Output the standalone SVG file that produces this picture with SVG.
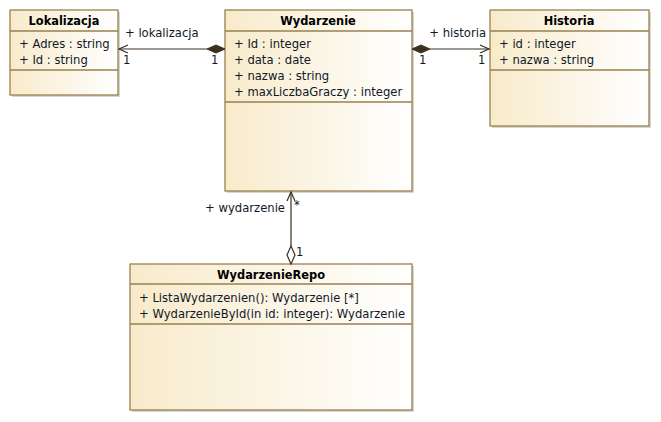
<svg xmlns="http://www.w3.org/2000/svg" width="661" height="422" viewBox="0 0 661 422">
<style>
.box{fill:url(#g);stroke:#98804f;stroke-width:1.3}
.sh{fill:#d9d6cf}
.sep{stroke:#98804f;stroke-width:1.3}
text{font-family:"DejaVu Sans",Verdana,sans-serif;font-size:11.6px;fill:#101828}
.t{font-weight:bold;text-anchor:middle;fill:#000;font-size:11.4px}
.ln{stroke:#3c3020;stroke-width:1.2;fill:none}
</style>
<defs>
<linearGradient id="g" x1="0" y1="0" x2="1" y2="0">
<stop offset="0" stop-color="#f8ebcb"/>
<stop offset="1" stop-color="#ffffff"/>
</linearGradient>
</defs>
<g id="Lokalizacja">
<rect class="sh" x="12" y="12" width="108" height="85"/>
<rect class="box" x="10" y="10" width="108" height="85"/>
<line class="sep" x1="10" y1="31" x2="118" y2="31"/>
<line class="sep" x1="10" y1="70" x2="118" y2="70"/>
<text class="t" x="64" y="25">Lokalizacja</text>
<text x="19" y="48">+ Adres : string</text>
<text x="19" y="64">+ Id : string</text>
</g>
<g id="Wydarzenie">
<rect class="sh" x="227" y="12" width="187" height="181"/>
<rect class="box" x="225" y="10" width="187" height="181"/>
<line class="sep" x1="225" y1="31" x2="412" y2="31"/>
<line class="sep" x1="225" y1="102" x2="412" y2="102"/>
<text class="t" x="318" y="25">Wydarzenie</text>
<text x="234" y="48">+ Id : integer</text>
<text x="234" y="64">+ data : date</text>
<text x="234" y="80">+ nazwa : string</text>
<text x="234" y="96">+ maxLiczbaGraczy : integer</text>
</g>
<g id="Historia">
<rect class="sh" x="492" y="12" width="159" height="116"/>
<rect class="box" x="490" y="10" width="159" height="116"/>
<line class="sep" x1="490" y1="31" x2="649" y2="31"/>
<line class="sep" x1="490" y1="70" x2="649" y2="70"/>
<text class="t" x="569" y="25">Historia</text>
<text x="499" y="48">+ id : integer</text>
<text x="499" y="64">+ nazwa : string</text>
</g>
<g id="WydarzenieRepo">
<rect class="sh" x="132" y="266" width="282" height="146"/>
<rect class="box" x="130" y="264" width="282" height="146"/>
<line class="sep" x1="130" y1="284" x2="412" y2="284"/>
<line class="sep" x1="130" y1="324" x2="412" y2="324"/>
<text class="t" x="271" y="279">WydarzenieRepo</text>
<text x="139" y="302">+ ListaWydarzenien(): Wydarzenie [*]</text>
<text x="139" y="318">+ WydarzenieById(in id: integer): Wydarzenie</text>
</g>
<g id="connectors">
<line class="ln" x1="119" y1="49" x2="207" y2="49"/>
<polyline class="ln" points="128,45 119,49 128,53"/>
<polygon points="207,49 216,45 225,49 216,53" fill="#3c3020" stroke="#3c3020"/>
<text x="125" y="37">+ lokalizacja</text>
<text x="123" y="64">1</text>
<text x="211" y="64">1</text>
<line class="ln" x1="430" y1="49" x2="489" y2="49"/>
<polyline class="ln" points="480,45 489,49 480,53"/>
<polygon points="412,49 421,45 430,49 421,53" fill="#3c3020" stroke="#3c3020"/>
<text x="486" y="37" text-anchor="end">+ historia</text>
<text x="419" y="64">1</text>
<text x="478" y="64">1</text>
<line class="ln" x1="291" y1="192" x2="291" y2="246"/>
<polyline class="ln" points="287,201 291,192 295,201"/>
<polygon class="ln" points="291,246 295,255 291,264 287,255" fill="#fff"/>
<text x="285" y="212" text-anchor="end">+ wydarzenie</text>
<text x="294" y="209" fill="#a03040">*</text>
<text x="296" y="256">1</text>
</g>
</svg>
